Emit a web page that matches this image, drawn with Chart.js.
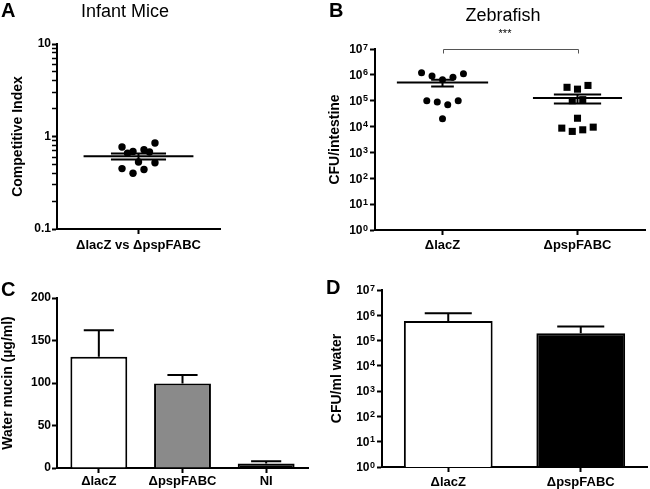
<!DOCTYPE html>
<html>
<head>
<meta charset="utf-8">
<script src="https://cdn.jsdelivr.net/npm/chart.js@4.4.1/dist/chart.umd.min.js"></script>
<style>
  body { margin: 0; background: #fff; }
  #fig { position: relative; width: 650px; height: 489px; overflow: hidden;
         font-family: "Liberation Sans", Arial, sans-serif; color: #000; }
  #fig canvas { position: absolute; }
  .letter { position: absolute; font-weight: bold; font-size: 20px; line-height: 1; }
  .title { position: absolute; font-size: 18px; line-height: 1; transform: translateX(-50%); white-space: nowrap; }
</style>
</head>
<body>
<div id="fig">
  <canvas id="chartA" width="325" height="262" style="left:0;top:0"></canvas>
  <canvas id="chartB" width="325" height="262" style="left:325px;top:0"></canvas>
  <canvas id="chartC" width="325" height="239" style="left:0;top:250px"></canvas>
  <canvas id="chartD" width="325" height="239" style="left:325px;top:250px"></canvas>

  <div class="letter" style="left:1px;top:0">A</div>
  <div class="title" style="left:125px;top:2px">Infant Mice</div>
  <div class="letter" style="left:329px;top:0">B</div>
  <div class="title" style="left:503px;top:6px">Zebrafish</div>
  <div class="title" style="left:505px;top:28px;font-size:11px">***</div>
  <div class="letter" style="left:1px;top:279px">C</div>
  <div class="letter" style="left:326px;top:277px">D</div>
</div>

<script>
// A - infant mice, competitive index
const miceGroup = ['ΔlacZ vs ΔpspFABC'];
const miceCI = [0.77, 0.66, 0.69, 0.72, 0.68, 0.85, 0.53, 0.52, 0.45, 0.44, 0.40];
const miceSlot = [-3, -2, -1, 1, 2, 3, 0, 3, -3, 1, -1];
const miceTicks = [0.1, 1, 10];
const miceTickLabels = ['0.1', '1', '10'];

// B - zebrafish, CFU per intestine
const fishGroups = ['ΔlacZ', 'ΔpspFABC'];
const fishLacZ = [1.2e6, 9e5, 6.5e5, 8e5, 1.1e6, 1.0e5, 9e4, 7e4, 1.0e5, 2e4];
const fishLacZSlot = [-4, -2, 0, 2, 4, -3, -1, 1, 3, 0];
const fishPsp = [3.3e5, 2.8e5, 3.9e5, 1.0e5, 1.1e5, 2.1e4, 8.7e3, 6.5e3, 7.5e3, 9.5e3];
const fishPspSlot = [-2, 0, 2, -1, 1, 0, -3, -1, 1, 3];

// shared log ticks for B and D (drawn as 10 + exponent)
const logTicks = [1, 10, 100, 1e3, 1e4, 1e5, 1e6, 1e7];
const logTickExp = ['0', '1', '2', '3', '4', '5', '6', '7'];

// C - water mucin
const mucinGroups = ['ΔlacZ', 'ΔpspFABC', 'NI'];
const mucinMean = [131, 99.5, 5.4];
const mucinSem = [31, 10, 2.4];
const mucinTicks = [0, 50, 100, 150, 200];

// D - CFU per ml water
const waterGroups = ['ΔlacZ', 'ΔpspFABC'];
const waterMean = [6.0e5, 1.96e5];
const waterSem = [6.0e5, 1.64e5];

Chart.defaults.font.family = '"Liberation Sans", Arial, sans-serif';
Chart.defaults.color = '#000';
Chart.defaults.animation = false;

const avg = a => a.reduce((s, v) => s + v, 0) / a.length;
const sem = a => {
  const m = avg(a);
  return Math.sqrt(a.reduce((s, v) => s + (v - m) ** 2, 0) / (a.length - 1) / a.length);
};

// mean line + SEM whiskers for the dot plots
const meanSemPlugin = {
  id: 'meanSem',
  afterDatasetsDraw(chart, args, opts) {
    const {ctx, scales: {x, y}} = chart;
    ctx.save();
    ctx.strokeStyle = '#000';
    ctx.lineWidth = 2;
    (opts.groups || []).forEach(g => {
      const cx = x.getPixelForValue(g.x);
      const hm = x.getPixelForValue(g.x + g.meanHalf) - cx;
      const hs = x.getPixelForValue(g.x + g.semHalf) - cx;
      const ym = y.getPixelForValue(g.mean);
      const yHi = y.getPixelForValue(g.mean + g.sem);
      const yLo = y.getPixelForValue(g.mean - g.sem);
      ctx.beginPath();
      ctx.moveTo(cx - hm, ym); ctx.lineTo(cx + hm, ym);
      ctx.moveTo(cx - hs, yHi); ctx.lineTo(cx + hs, yHi);
      ctx.moveTo(cx - hs, yLo); ctx.lineTo(cx + hs, yLo);
      ctx.moveTo(cx, yHi); ctx.lineTo(cx, yLo);
      ctx.stroke();
    });
    ctx.restore();
  }
};

// upward error bars on bar charts
const errorBarPlugin = {
  id: 'errorBars',
  afterDatasetsDraw(chart, args, opts) {
    const {ctx, scales: {y}} = chart;
    const meta = chart.getDatasetMeta(0);
    const vals = chart.data.datasets[0].data;
    ctx.save();
    ctx.strokeStyle = '#000';
    ctx.lineWidth = 2;
    meta.data.forEach((bar, i) => {
      const top = y.getPixelForValue(vals[i] + opts.errors[i]);
      const half = bar.width * opts.capRatio / 2;
      ctx.beginPath();
      ctx.moveTo(bar.x, bar.y); ctx.lineTo(bar.x, top);
      ctx.moveTo(bar.x - half, top); ctx.lineTo(bar.x + half, top);
      ctx.stroke();
    });
    ctx.restore();
  }
};

// significance bracket between the two groups
const bracketPlugin = {
  id: 'bracket',
  afterDraw(chart, args, opts) {
    const {ctx, scales: {x, y}} = chart;
    const x1 = Math.round(x.getPixelForValue(opts.from)) + 0.5;
    const x2 = Math.round(x.getPixelForValue(opts.to)) + 0.5;
    const yy = Math.round(y.getPixelForValue(opts.value)) + 0.5;
    ctx.save();
    ctx.strokeStyle = '#555';
    ctx.lineWidth = 1;
    ctx.beginPath();
    ctx.moveTo(x1, yy + 4); ctx.lineTo(x1, yy);
    ctx.lineTo(x2, yy); ctx.lineTo(x2, yy + 4);
    ctx.stroke();
    ctx.restore();
  }
};

// "10" with a raised exponent next to each power-of-ten tick
const powerLabelPlugin = {
  id: 'powerLabels',
  afterDraw(chart) {
    const {ctx, scales: {y}} = chart;
    const right = y.right - 5 - 2;
    ctx.save();
    ctx.fillStyle = '#000';
    logTicks.forEach((v, i) => {
      const py = y.getPixelForValue(v);
      ctx.font = 'bold 9px "Liberation Sans", Arial, sans-serif';
      ctx.textAlign = 'right';
      ctx.textBaseline = 'alphabetic';
      const ew = ctx.measureText(logTickExp[i]).width;
      ctx.fillText(logTickExp[i], right, py + 0.5);
      ctx.font = 'bold 12px "Liberation Sans", Arial, sans-serif';
      ctx.textBaseline = 'middle';
      ctx.fillText('10', right - ew - 0.5, py + 1);
    });
    ctx.restore();
  }
};

const tickFont = {size: 12, weight: 'bold'};
const titleFont = {size: 14, weight: 'bold'};

function yAxis(type, min, max, ticks, title, titlePad, width) {
  return {
    type: type,
    min: min,
    max: max,
    afterBuildTicks: s => { s.ticks = ticks.map(t => Object.assign({}, t)); },
    afterFit: s => { s.width = width; },
    border: {display: true, color: '#000', width: 2},
    grid: {
      drawOnChartArea: false, drawTicks: true, tickLength: 5, tickColor: '#000',
      tickWidth: c => (c.tick && c.tick.major) ? 2 : 1.5
    },
    ticks: {
      autoSkip: false, padding: 1, font: tickFont, color: '#000',
      callback: (v, i, t) => t[i].lbl || ''
    },
    title: {display: true, text: title, font: titleFont, color: '#000', padding: {top: titlePad, bottom: 0}}
  };
}

function xAxis(extra, height, pad) {
  return Object.assign({
    afterFit: s => { s.height = height; },
    border: {display: true, color: '#000', width: 2},
    grid: {drawOnChartArea: false, drawTicks: true, tickLength: 5, tickColor: '#000', tickWidth: 2, offset: false},
    ticks: {autoSkip: false, maxRotation: 0, padding: pad, font: {size: 13, weight: 'bold'}, color: '#000',
            callback: function (v, i, t) { return t[i].lbl || this.getLabelForValue(v); }}
  }, extra);
}

// A
const miceTickObjs = [];
[0.1, 1].forEach(d => {
  for (let k = 1; k <= 9; k++) {
    const v = +(k * d).toFixed(2);
    const idx = miceTicks.indexOf(v);
    miceTickObjs.push({value: v, major: idx >= 0, lbl: idx >= 0 ? miceTickLabels[idx] : ''});
  }
});
miceTickObjs.push({value: 10, major: true, lbl: miceTickLabels[2]});

new Chart(document.getElementById('chartA'), {
  type: 'scatter',
  data: {
    datasets: [{
      data: miceCI.map((v, i) => ({x: 0.5 + miceSlot[i] * 0.0337, y: v})),
      pointRadius: 3.7,
      pointBackgroundColor: '#000',
      pointBorderWidth: 0
    }]
  },
  options: {
    responsive: false,
    layout: {padding: {top: 44, right: 105, left: 0, bottom: 0}},
    scales: {
      x: xAxis({
        type: 'linear', min: 0, max: 1,
        afterBuildTicks: s => { s.ticks = [{value: 0.5, lbl: miceGroup[0]}]; }
      }, 262 - 229, 4),
      y: yAxis('logarithmic', 0.1, 10, miceTickObjs, 'Competitive Index', 9.6, 57)
    },
    plugins: {
      legend: {display: false},
      tooltip: {enabled: false},
      meanSem: {groups: [{x: 0.5, mean: avg(miceCI), sem: sem(miceCI), meanHalf: 0.337, semHalf: 0.169}]}
    }
  },
  plugins: [meanSemPlugin]
});

// B
const fishStep = 0.0388;
const logTickObjs = logTicks.map(v => ({value: v, major: true, lbl: ''}));

new Chart(document.getElementById('chartB'), {
  type: 'scatter',
  data: {
    datasets: [{
      data: fishLacZ.map((v, i) => ({x: 0.5 + fishLacZSlot[i] * fishStep, y: v})),
      pointStyle: 'circle',
      pointRadius: 3.5,
      pointBackgroundColor: '#000',
      pointBorderWidth: 0
    }, {
      data: fishPsp.map((v, i) => ({x: 1.5 + fishPspSlot[i] * fishStep, y: v})),
      pointStyle: 'rect',
      pointRadius: 5,
      pointBackgroundColor: '#000',
      pointBorderWidth: 0
    }]
  },
  options: {
    responsive: false,
    layout: {padding: {top: 49, right: 0, left: 0, bottom: 0}},
    scales: {
      x: xAxis({
        type: 'linear', min: 0, max: 2,
        afterBuildTicks: s => { s.ticks = fishGroups.map((g, i) => ({value: i + 0.5, lbl: g})); }
      }, 262 - 230, 3),
      y: yAxis('logarithmic', 1, 1e7, logTickObjs, 'CFU/intestine', 1.6, 50)
    },
    plugins: {
      legend: {display: false},
      tooltip: {enabled: false},
      meanSem: {groups: [
        {x: 0.5, mean: avg(fishLacZ), sem: sem(fishLacZ), meanHalf: 0.338, semHalf: 0.084},
        {x: 1.5, mean: avg(fishPsp), sem: sem(fishPsp), meanHalf: 0.33, semHalf: 0.175}
      ]},
      bracket: {from: 0.5, to: 1.5, value: 1e7}
    }
  },
  plugins: [meanSemPlugin, bracketPlugin, powerLabelPlugin]
});

// C
new Chart(document.getElementById('chartC'), {
  type: 'bar',
  data: {
    labels: mucinGroups,
    datasets: [{
      data: mucinMean,
      backgroundColor: ['#ffffff', '#8a8a8a', '#000000'],
      borderColor: '#000',
      borderWidth: 2,
      barPercentage: 0.68,
      categoryPercentage: 1
    }]
  },
  options: {
    responsive: false,
    layout: {padding: {top: 48, right: 17, left: 0, bottom: 0}},
    scales: {
      x: xAxis({type: 'category'}, 239 - 218, 1),
      y: yAxis('linear', 0, 200, mucinTicks.map(v => ({value: v, major: true, lbl: String(v)})),
               'Water mucin (µg/ml)', 0, 57)
    },
    plugins: {
      legend: {display: false},
      tooltip: {enabled: false},
      errorBars: {errors: mucinSem, capRatio: 0.53}
    }
  },
  plugins: [errorBarPlugin]
});

// D
new Chart(document.getElementById('chartD'), {
  type: 'bar',
  data: {
    labels: waterGroups,
    datasets: [{
      data: waterMean,
      backgroundColor: ['#ffffff', '#000000'],
      borderColor: '#000',
      borderWidth: 2,
      barPercentage: 0.67,
      categoryPercentage: 1
    }]
  },
  options: {
    responsive: false,
    layout: {padding: {top: 40, right: 3, left: 0, bottom: 0}},
    scales: {
      x: xAxis({type: 'category'}, 239 - 217, 3),
      y: yAxis('logarithmic', 1, 1e7, logTickObjs, 'CFU/ml water', 3.6, 57)
    },
    plugins: {
      legend: {display: false},
      tooltip: {enabled: false},
      errorBars: {errors: waterSem, capRatio: 0.53}
    }
  },
  plugins: [errorBarPlugin, powerLabelPlugin]
});
</script>
</body>
</html>
